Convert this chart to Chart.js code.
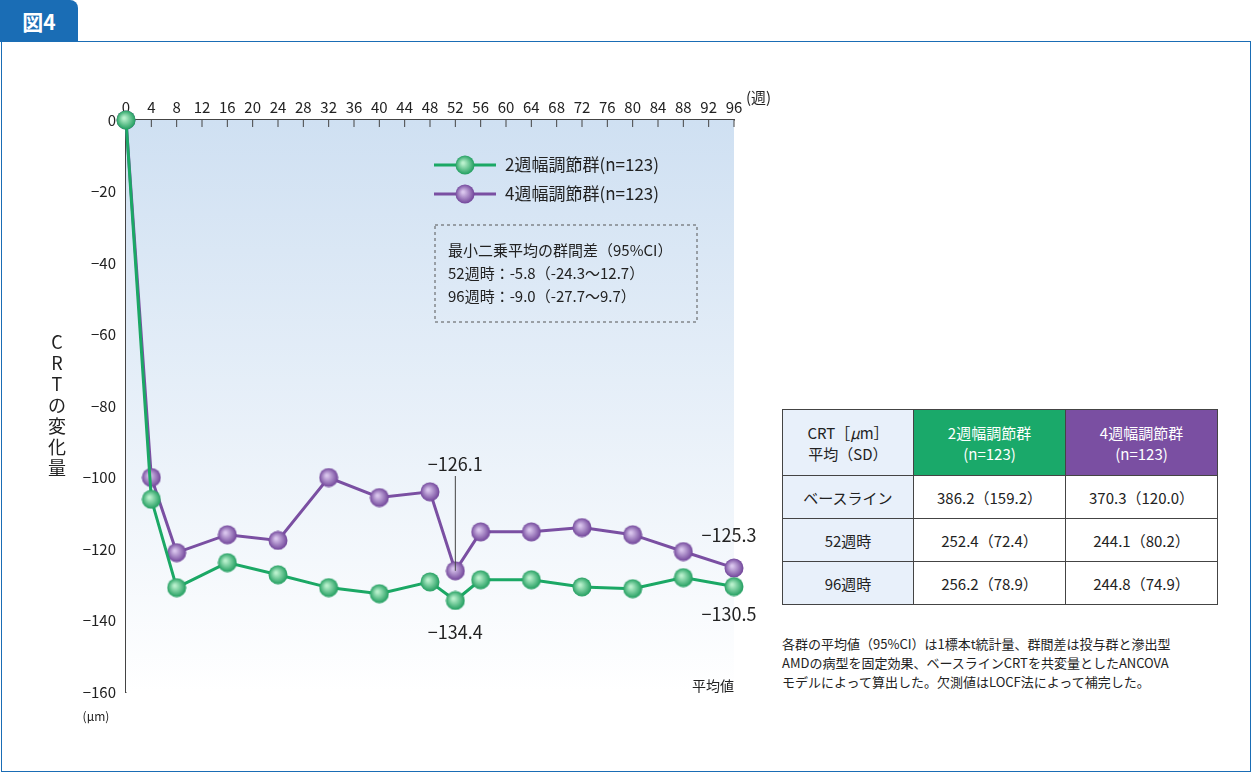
<!DOCTYPE html>
<html><head><meta charset="utf-8">
<script src="https://cdn.jsdelivr.net/npm/chart.js@4/dist/chart.umd.min.js"></script>
<style>
body{margin:0;width:1252px;height:772px;background:#fff;font-family:"Noto Sans CJK JP","Noto Sans",sans-serif;position:relative;overflow:hidden}
#frame{position:absolute;left:1px;top:41px;width:1248px;height:729px;border:1.5px solid #1a6db5}
#tab{position:absolute;left:0;top:0;width:78px;height:42px;background:#1a6db5;color:#fff;font-size:21px;font-weight:bold;line-height:42px;text-align:center;border-radius:0 8px 0 0}
#wrap{position:absolute;left:0;top:0;width:780px;height:772px}
table{position:absolute;left:782px;top:409px;border-collapse:collapse;font-size:15px;color:#222}
td{border:1px solid #444;text-align:center;height:42px;padding:0}
.h{height:65px}
.c0{width:130px;background:#e8f0fa}
.g{background:#1aa96a;color:#fff;width:151px}
.p{background:#7a4fa2;color:#fff;width:151px}
#note{position:absolute;left:782px;top:634px;font-size:13px;line-height:19px;color:#222;width:450px}
</style></head><body>
<div id="frame"></div><div id="tab">図4</div>
<div id="wrap"><canvas id="c" width="780" height="772"></canvas></div>
<table>
<tr><td class="c0 h">CRT［<i>μ</i>m］<br>平均（SD）</td><td class="g h">2週幅調節群<br>(n=123)</td><td class="p h">4週幅調節群<br>(n=123)</td></tr>
<tr><td class="c0">ベースライン</td><td>386.2（159.2）</td><td>370.3（120.0）</td></tr>
<tr><td class="c0">52週時</td><td>252.4（72.4）</td><td>244.1（80.2）</td></tr>
<tr><td class="c0">96週時</td><td>256.2（78.9）</td><td>244.8（74.9）</td></tr>
</table>
<div id="note">各群の平均値（95%CI）は1標本t統計量、群間差は投与群と滲出型<br>AMDの病型を固定効果、ベースラインCRTを共変量としたANCOVA<br>モデルによって算出した。欠測値はLOCF法によって補完した。</div>
<script>
var weeks = [0, 4, 8, 16, 24, 32, 40, 48, 52, 56, 64, 72, 80, 88, 96];
var group2w = [0, -106.1, -130.8, -123.8, -127.2, -130.8, -132.5, -129.2, -134.4, -128.6, -128.6, -130.6, -131.1, -128.0, -130.5];
var group4w = [0, -100.0, -121.0, -116.0, -117.6, -100.0, -105.6, -104.0, -126.1, -115.2, -115.2, -114.0, -116.0, -120.7, -125.3];
var seriesNames = ['2週幅調節群(n=123)', '4週幅調節群(n=123)'];
var diffLines = ['最小二乗平均の群間差（95%CI）', '52週時：-5.8（-24.3〜12.7）', '96週時：-9.0（-27.7〜9.7）'];

var GREEN = '#1ba865', PURPLE = '#7a4fa2';
var FONT = '"Noto Sans CJK JP","Noto Sans",sans-serif';

function ball(light, dark) {
    var s = document.createElement('canvas');
    s.width = 20; s.height = 20;
    var g = s.getContext('2d');
    var grad = g.createRadialGradient(8, 8, 1, 10, 10, 10);
    grad.addColorStop(0, light);
    grad.addColorStop(1, dark);
    g.fillStyle = grad;
    g.beginPath(); g.arc(10, 10, 9.5, 0, Math.PI * 2); g.fill();
    return s;
}
var greenBall = ball('#b8f0cc', '#1a9a5a');
var purpleBall = ball('#d8c4ec', '#6c3f96');

function toPts(arr) { return weeks.map(function (w, i) { return {x: w, y: arr[i]}; }); }
function minus(v) { return String(v).replace('-', '−'); }

var deco = {
    id: 'deco',
    beforeDatasetsDraw: function (chart) {
        var ctx = chart.ctx, a = chart.chartArea;
        var grad = ctx.createLinearGradient(0, a.top, 0, a.bottom);
        grad.addColorStop(0, '#cfe0f2');
        grad.addColorStop(1, '#ffffff');
        ctx.save();
        ctx.fillStyle = grad;
        ctx.fillRect(a.left, a.top, a.right - a.left, a.bottom - a.top);
        // x ticks pointing down into the plot
        ctx.strokeStyle = '#444'; ctx.lineWidth = 1;
        for (var w = 0; w <= 96; w += 4) {
            var px = chart.scales.x.getPixelForValue(w);
            ctx.beginPath(); ctx.moveTo(px, a.top); ctx.lineTo(px, a.top + 7); ctx.stroke();
        }
        ctx.restore();
    },
    afterDraw: function (chart) {
        var ctx = chart.ctx, a = chart.chartArea;
        var xs = chart.scales.x, ys = chart.scales.y;
        ctx.save();
        ctx.fillStyle = '#222';
        ctx.font = '15px ' + FONT;
        ctx.textAlign = 'left'; ctx.textBaseline = 'middle';
        ctx.fillText('(週)', a.right + 12, 97);
        ctx.font = '12px ' + FONT;
        ctx.textAlign = 'center';
        ctx.fillText('(μm)', 96, 716);
        ctx.font = '14px ' + FONT;
        ctx.textAlign = 'right';
        ctx.fillText('平均値', a.right, 686);
        // y title
        ctx.font = '18px ' + FONT;
        ctx.textAlign = 'center';
        var chars = ['C', 'R', 'T', 'の', '変', '化', '量'];
        chars.forEach(function (c, i) { ctx.fillText(c, 57, 342 + i * 21); });
        // legend
        ctx.font = '17px ' + FONT;
        [[GREEN, greenBall, 165], [PURPLE, purpleBall, 194]].forEach(function (l, i) {
            ctx.strokeStyle = l[0]; ctx.lineWidth = 3;
            ctx.beginPath(); ctx.moveTo(434, l[2]); ctx.lineTo(496, l[2]); ctx.stroke();
            ctx.drawImage(l[1], 455, l[2] - 10);
            ctx.textAlign = 'left';
            ctx.fillText(seriesNames[i], 505, l[2]);
        });
        // dashed box
        ctx.setLineDash([3, 3]); ctx.strokeStyle = '#555'; ctx.lineWidth = 1;
        ctx.strokeRect(435, 225, 262, 97);
        ctx.setLineDash([]);
        ctx.font = '15px ' + FONT;
        diffLines.forEach(function (t, i) { ctx.fillText(t, 448, 250 + i * 23); });
        // value labels
        ctx.font = '18px ' + FONT;
        ctx.textAlign = 'center';
        var x52 = xs.getPixelForValue(52), x96 = xs.getPixelForValue(96);
        ctx.fillText(minus(group4w[8].toFixed(1)), x52, 464);
        ctx.strokeStyle = '#444';
        ctx.beginPath(); ctx.moveTo(x52, 476); ctx.lineTo(x52, ys.getPixelForValue(group4w[8])); ctx.stroke();
        ctx.fillText(minus(group2w[8].toFixed(1)), x52, 632);
        ctx.fillText(minus(group4w[14].toFixed(1)), x96 - 5, 535);
        ctx.fillText(minus(group2w[14].toFixed(1)), x96 - 5, 614);
        ctx.restore();
    }
};

new Chart(document.getElementById('c'), {
    type: 'line',
    data: {
        datasets: [
            {label: seriesNames[0], data: toPts(group2w), borderColor: GREEN, borderWidth: 3, pointStyle: greenBall, pointRadius: 10, clip: false},
            {label: seriesNames[1], data: toPts(group4w), borderColor: PURPLE, borderWidth: 3, pointStyle: purpleBall, pointRadius: 10, clip: false}
        ]
    },
    options: {
        responsive: false, animation: false,
        layout: {padding: {left: 0, right: 46, top: 84, bottom: 80}},
        plugins: {legend: {display: false}, tooltip: {enabled: false}},
        scales: {
            x: {
                type: 'linear', position: 'top', min: 0, max: 96,
                afterFit: function (s) { s.height = 36; },
                ticks: {stepSize: 4, color: '#222', font: {family: FONT, size: 15}, padding: 4, maxRotation: 0, autoSkip: false},
                grid: {display: false, drawTicks: false},
                border: {color: '#444', width: 1.5}
            },
            y: {
                min: -160, max: 0,
                afterFit: function (s) { s.width = 126; },
                ticks: {stepSize: 20, color: '#222', font: {family: FONT, size: 15}, padding: 4,
                        callback: function (v) { return minus(v); }},
                grid: {display: false, drawTicks: true, tickLength: 6, color: '#444'},
                border: {color: '#444', width: 1.5}
            }
        }
    },
    plugins: [deco]
});
</script>
</body></html>
